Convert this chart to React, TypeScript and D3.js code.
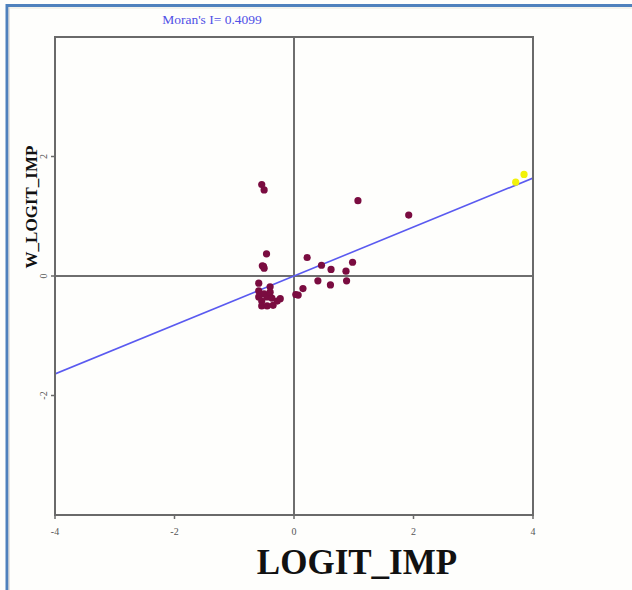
import React, { useEffect, useRef } from 'react'
import * as d3 from 'd3'

// LOGIT_IMP (x) and spatially lagged W_LOGIT_IMP (y)
const logitImp = [
  -0.54, -0.5, 1.07, 1.92, -0.46, -0.53, -0.5, -0.51, 0.22, 0.46, 0.62, 0.87, 0.98,
  0.4, 0.61, 0.88, 0.15, 0.03, 0.07, -0.59, -0.4, -0.59, -0.5, -0.59, -0.45, -0.37,
  -0.54, -0.28, -0.23, -0.35, -0.54, -0.45, -0.4,
]
const wLogitImp = [
  1.53, 1.44, 1.26, 1.02, 0.37, 0.17, 0.13, 0.16, 0.31, 0.18, 0.11, 0.08, 0.23,
  -0.08, -0.15, -0.08, -0.21, -0.31, -0.32, -0.12, -0.18, -0.25, -0.3, -0.35, -0.35, -0.37,
  -0.42, -0.42, -0.38, -0.49, -0.5, -0.5, -0.27,
]
// selected (highlighted) observations
const selectedX = [3.71, 3.85]
const selectedY = [1.57, 1.7]

const moransI = 0.4099
const xTicks = [-4, -2, 0, 2, 4]
const yTicks = [-2, 0, 2]

const App = () => {
  const ref = useRef<SVGSVGElement | null>(null)

  useEffect(() => {
    const svg = d3.select(ref.current)
    svg.selectAll('*').remove()

    const width = 632
    const height = 590
    const left = 55
    const top = 37
    const size = 478

    const x = d3.scaleLinear().domain([-4, 4]).range([left, left + size])
    const y = d3.scaleLinear().domain([-4, 4]).range([top + size, top])

    svg.append('rect').attr('width', width).attr('height', height).attr('fill', '#fefefc')

    // outer frame
    svg.append('line').attr('x1', 6).attr('x2', width).attr('y1', 5.5).attr('y2', 5.5)
      .attr('stroke', '#4f81bd').attr('stroke-width', 3)
    svg.append('line').attr('x1', 7).attr('x2', 7).attr('y1', 4).attr('y2', height)
      .attr('stroke', '#4f81bd').attr('stroke-width', 3)
    svg.append('line').attr('x1', 9).attr('x2', 9).attr('y1', 7).attr('y2', height)
      .attr('stroke', '#c8c8c8').attr('stroke-width', 1)
    svg.append('line').attr('x1', 9).attr('x2', width).attr('y1', 8).attr('y2', 8)
      .attr('stroke', '#e6e6dc').attr('stroke-width', 1)

    svg.append('text')
      .attr('x', 212).attr('y', 24)
      .attr('text-anchor', 'middle')
      .attr('font-family', 'Liberation Serif, serif')
      .attr('font-size', 13.5)
      .attr('fill', '#5050e6')
      .text(`Moran's I= ${moransI}`)

    const g = svg.append('g')

    // zero lines
    g.append('line').attr('x1', x(0)).attr('x2', x(0)).attr('y1', top).attr('y2', top + size)
      .attr('stroke', '#6e6e6e').attr('stroke-width', 2)
    g.append('line').attr('x1', left).attr('x2', left + size).attr('y1', y(0)).attr('y2', y(0))
      .attr('stroke', '#6e6e6e').attr('stroke-width', 2)

    // regression line, slope = Moran's I
    const clip = svg.append('clipPath').attr('id', 'plot-clip')
    clip.append('rect').attr('x', left).attr('y', top).attr('width', size).attr('height', size)
    g.append('path')
      .attr('clip-path', 'url(#plot-clip)')
      .attr('d', d3.line()([[x(-4), y(-4 * moransI)], [x(4), y(4 * moransI)]]))
      .attr('stroke', '#5a5af0').attr('stroke-width', 1.6).attr('fill', 'none')

    g.selectAll('circle.obs')
      .data(logitImp.map((v, i) => [v, wLogitImp[i]]))
      .enter()
      .append('circle')
      .attr('class', 'obs')
      .attr('cx', (d) => x(d[0]))
      .attr('cy', (d) => y(d[1]))
      .attr('r', 3.6)
      .attr('fill', '#7a0c40')

    g.selectAll('circle.sel')
      .data(selectedX.map((v, i) => [v, selectedY[i]]))
      .enter()
      .append('circle')
      .attr('class', 'sel')
      .attr('cx', (d) => x(d[0]))
      .attr('cy', (d) => y(d[1]))
      .attr('r', 3.6)
      .attr('fill', '#f2f20a')

    // plot border
    g.append('rect').attr('x', left).attr('y', top).attr('width', size).attr('height', size)
      .attr('fill', 'none').attr('stroke', '#6a6a6a').attr('stroke-width', 2)

    // x ticks
    xTicks.forEach((t) => {
      g.append('line').attr('x1', x(t)).attr('x2', x(t)).attr('y1', top + size).attr('y2', top + size + 4)
        .attr('stroke', '#6a6a6a').attr('stroke-width', 1.5)
      g.append('text').attr('x', x(t)).attr('y', top + size + 20)
        .attr('text-anchor', 'middle')
        .attr('font-family', 'Liberation Serif, serif').attr('font-size', 10)
        .attr('fill', '#555').text(t)
    })

    // y ticks, labels rotated
    yTicks.forEach((t) => {
      g.append('line').attr('x1', left - 4).attr('x2', left).attr('y1', y(t)).attr('y2', y(t))
        .attr('stroke', '#6a6a6a').attr('stroke-width', 1.5)
      g.append('text')
        .attr('transform', `translate(${left - 8}, ${y(t)}) rotate(-90)`)
        .attr('text-anchor', 'middle')
        .attr('font-family', 'Liberation Serif, serif').attr('font-size', 10)
        .attr('fill', '#555').text(t)
    })

    svg.append('text')
      .attr('x', 357).attr('y', 574)
      .attr('text-anchor', 'middle')
      .attr('font-family', 'Liberation Serif, serif')
      .attr('font-weight', 'bold')
      .attr('font-size', 35)
      .attr('fill', '#111')
      .text('LOGIT_IMP')

    svg.append('text')
      .attr('transform', 'translate(37, 207) rotate(-90)')
      .attr('text-anchor', 'middle')
      .attr('font-family', 'Liberation Serif, serif')
      .attr('font-weight', 'bold')
      .attr('font-size', 17)
      .attr('fill', '#111')
      .text('W_LOGIT_IMP')
  }, [])

  return (
    <svg
      ref={ref}
      width={632}
      height={590}
      style={{ position: 'absolute', left: 0, top: 0, display: 'block' }}
    />
  )
}

export default App
